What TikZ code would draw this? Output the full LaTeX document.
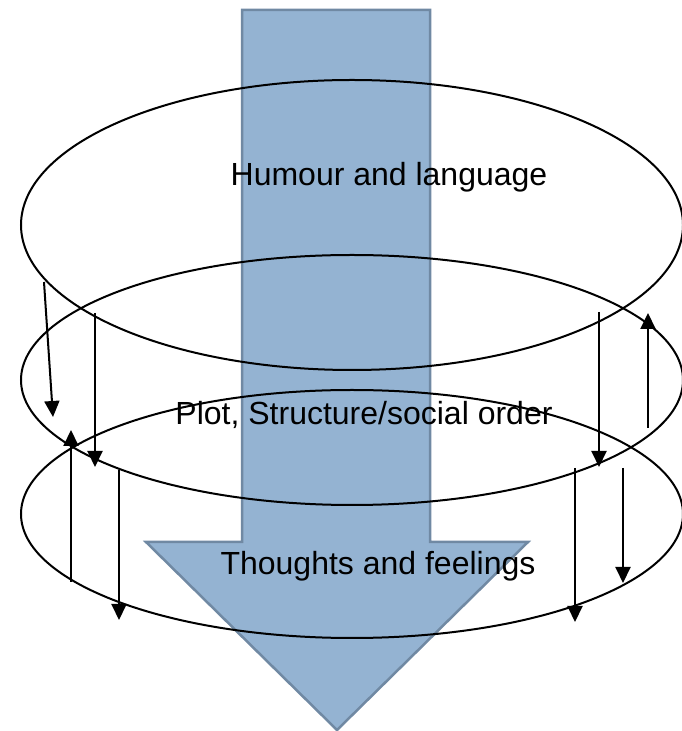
\documentclass[tikz,border=0pt]{standalone}
\usepackage{fontspec}
\setmainfont{Liberation Sans}
\usepackage{xcolor}
\usetikzlibrary{arrows.meta}
\definecolor{flowbg}{RGB}{148,179,210}
\definecolor{flowline}{RGB}{112,137,163}

\begin{document}
\begin{tikzpicture}[
    x=1pt, y=1pt,
    bigarrow/.style={fill=flowbg, draw=flowline, line width=2.5pt, line join=miter},
    layer/.style={draw=black, line width=2pt},
    flow/.style={-{Triangle[length=16pt, width=15pt]}, line width=2pt},
    label/.style={font=\fontsize{32}{38}\selectfont, inner sep=0pt, anchor=base}
]
    \useasboundingbox (0,0) rectangle (682,731);

    % Big arrow
    \draw[bigarrow] (242,721) -- (430,721) -- (430,189) -- (528,189)
        -- (337,1) -- (146,189) -- (242,189) -- cycle;

    % Layers
    \draw[layer] (352,506) ellipse[x radius=331, y radius=145];
    \draw[layer] (352,351) ellipse[x radius=331, y radius=125];
    \draw[layer] (352,217) ellipse[x radius=331, y radius=124];

    % Arrows between layers
    \foreach \i/\xa/\ya/\xb/\yb in {
        1/44/449/53/314,  2/95/418/95/264,   3/71/149/71/301,   4/119/261/119/111,
        5/599/419/599/264, 6/648/303/648/418, 7/575/263/575/109, 8/623/263/623/148} {
        \coordinate (s\i) at (\xa,\ya);
        \coordinate (e\i) at (\xb,\yb);
        \draw[flow] (s\i) -- (e\i);
    }

    % Labels
    \node[label] (humour) at (389,545) {Humour and language};
    \node[label] (plot) at (364,306) {Plot, Structure/social order};
    \node[label] (thoughts) at (378,156) {Thoughts and feelings};
\end{tikzpicture}
\end{document}
